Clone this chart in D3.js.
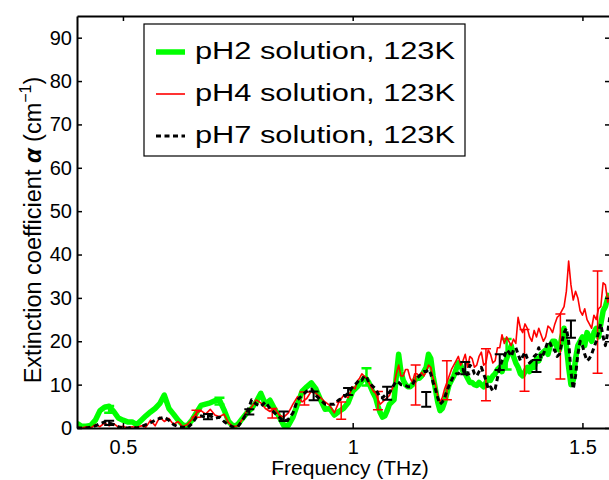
<!DOCTYPE html>
<html>
<head>
<meta charset="utf-8">
<script src="https://cdn.jsdelivr.net/npm/d3@7/dist/d3.min.js"></script>
<style>
  body { margin: 0; background: #fff; }
  text { font-family: "Liberation Sans", Arial, Helvetica, sans-serif; fill: #000; }
</style>
</head>
<body>
<script>
var width = 609, height = 480;
var plot = {left: 77, top: 16, right: 610, bottom: 428};

// frequency grid, THz: 0.40-0.99 every 0.01, then 1.00-1.56 every 0.005
var freq = d3.range(40, 100).map(function(i) { return i / 100; })
  .concat(d3.range(200, 313).map(function(i) { return i / 200; }));

var ph2 = [1.1, 0.4, 0.4, 0.6, 1.8, 4.0, 4.8, 5.0, 3.8, 2.3,
  1.8, 1.4, 1.4, 0.8, 1.8, 2.8, 3.7, 4.5, 5.6, 7.6,
  4.5, 3.2, 1.8, 0.7, 0.5, 1.8, 3.5, 5.2, 5.5, 5.8,
  6.3, 6.5, 4.2, 1.5, 0.4, 0.8, 2.2, 3.5, 4.5, 6.0,
  8.0, 5.5, 6.4, 4.4, 2.6, 0.6, 0.6, 2.5, 5.5, 8.5,
  9.5, 10.4, 9.0, 6.5, 4.3, 4.5, 3.0, 3.8, 4.5, 5.8,
  // 1.00 -
  8.5, 9.0, 9.5, 10.2, 10.8, 11.5, 11.3, 10.5, 9.2, 8.0,
  7.0, 5.0, 3.5, 2.5, 2.8, 4.0, 5.5, 6.0, 6.5, 12,
  17, 13, 11, 10, 9.5, 9.5, 10, 11, 11.5, 11.5,
  12, 13, 14, 17, 16, 12, 9, 6, 4, 4.5,
  6, 8, 10, 11, 12, 13.5, 15, 14.5, 13, 12.5,
  11.5, 10.5, 10.5, 10, 9.8, 10.5, 10, 9.5, 10.5, 11.5,
  11, 12, 12.5, 13.5, 14, 13, 14.5, 16, 17.5, 19,
  16.5, 15, 14, 12.5, 12, 13, 14, 13, 15, 14,
  16, 15.5, 17, 17.5, 18, 17, 19, 20, 20, 18.5,
  18, 21, 23, 19, 14, 10, 11, 16, 19, 20,
  21, 19, 22, 21, 20, 22, 23, 21, 24, 27,
  28, 30, 31];

var ph4 = [0.2, 0, 0.3, 0, 0.8, 0.3, 1.2, 0.5, 1.0, 0.2,
  0.4, 0, 0.3, 0.1, 0.5, 0.2, 1.8, 0.5, 2.5, 1.5,
  2.2, 0.8, 1.5, 0.3, 0.8, 2.0, 3.5, 4.0, 3.2, 4.3,
  3.0, 2.6, 3.2, 1.2, 0.3, 0.5, 2.0, 4.0, 4.8, 6.5,
  5.8, 4.5, 3.8, 4.5, 3.0, 2.5, 3.5, 5.5, 7.2, 6.0,
  6.8, 8.5, 8.0, 7.0, 6.0, 5.2, 3.5, 6.0, 7.5, 7.0,
  // 1.00 -
  9.5, 9.0, 10.8, 11.5, 12.5, 12.0, 11.5, 10.5, 9.5, 8.5,
  8.0, 6.5, 5.5, 6.0, 6.5, 7.0, 7.5, 8.8, 10, 12.5,
  14.5, 12.0, 12, 13.5, 13.5, 11.5, 10.5, 12.5, 12.5, 12.0,
  12.8, 12.0, 13, 14.5, 14, 11.5, 10, 7.5, 6, 7.0,
  9, 10.5, 12, 13.5, 14.5, 15.5, 16.5, 14.5, 15.5, 17.0,
  14, 16.5, 16, 14.0, 14.5, 16.5, 17.5, 14.5, 15, 18.0,
  17, 15.0, 15.5, 18.5, 18.5, 21.5, 19.5, 21.0, 20, 19.0,
  20.5, 19.5, 25.5, 23.0, 22, 24.0, 23, 21.0, 20, 22.5,
  21, 23.0, 21.5, 20.0, 21, 23.5, 23, 22.0, 24, 25.5,
  26, 27.0, 28, 31.5, 38.5, 33.0, 29.5, 31.5, 30, 27.0,
  26, 27.5, 25, 24.0, 23, 26.0, 25, 27.5, 28, 33.5,
  33, 29.0, 31];

var ph7 = [0, 0, 0, 0.2, 0.5, 1.0, 1.4, 1.2, 0.8, 0.3,
  0, 0, 0.2, 0, 0.3, 0.8, 1.2, 1.8, 2.2, 2.5,
  1.8, 0.8, 0.3, 0.2, 0, 1.0, 2.5, 2.8, 2.5, 2.8,
  2.2, 2.5, 1.5, 0.7, 0.2, 0.3, 1.8, 3.5, 6.5, 5.5,
  5.0, 6.0, 4.5, 3.5, 2.5, 1.5, 2.0, 3.5, 6.5, 7.5,
  8.5, 9.0, 7.5, 6.5, 5.5, 5.5, 5.5, 6.5, 7.0, 8.0,
  // 1.00 -
  9.5, 10.0, 10.5, 11.2, 11, 12.0, 11.8, 10.5, 10, 9.5,
  9, 8.0, 7, 7.0, 7.5, 8.0, 8.2, 9.0, 10, 10.8,
  10.5, 10.0, 10, 9.8, 9.5, 9.5, 10, 11.0, 11.5, 12.0,
  12.5, 13.0, 13, 13.5, 12.5, 10.5, 9, 7.0, 5.5, 6.0,
  7, 8.5, 9.8, 11.0, 12, 12.5, 12.5, 13.0, 13.5, 12.0,
  12.5, 14.5, 14, 12.5, 12, 13.0, 14, 12.5, 11, 9.0,
  9.5, 8.5, 9, 11.5, 14, 15.5, 16.5, 18.0, 17.5, 16.5,
  18, 18.5, 17, 15.5, 16.5, 17.5, 16, 15.0, 15.5, 16.5,
  17, 18.5, 16, 17.0, 18.5, 20.0, 19.5, 18.0, 18, 16.5,
  17, 19.5, 22, 23.0, 20, 13.0, 9, 12.0, 17, 20.0,
  19, 17.0, 15.5, 16.0, 17, 18.5, 20, 22.0, 24, 21.0,
  19, 22.0, 26];

// error bars: frequency, centre, half length
var ph2Err = [[0.47, 4.3, 0.8], [0.71, 6.2, 0.8], [1.03, 11.8, 2.0], [1.335, 17, 3.5]];
var ph4Err = [[0.66, 3.3, 0.8], [0.825, 3.4, 1.1], [0.895, 6.8, 1.5], [0.975, 4.0, 2.0],
  [1.055, 6.3, 2.1], [1.137, 9.9, 4.6], [1.205, 11, 4.5], [1.29, 12.3, 6.0],
  [1.374, 15.6, 7.1], [1.452, 18.8, 7.5], [1.533, 24.4, 11.8]];
var ph7Err = [[0.47, 1.2, 0.5], [0.685, 2.6, 0.6], [0.775, 3.7, 0.6], [0.85, 2.7, 1.1],
  [0.915, 7.4, 1.0], [0.99, 8.4, 0.8], [1.075, 8.0, 1.5], [1.16, 6.6, 1.7],
  [1.245, 13.8, 1.4], [1.32, 15.2, 1.8], [1.40, 14.3, 1.4], [1.475, 22.8, 2.0]];

var labels = ["pH2 solution, 123K", "pH4 solution, 123K", "pH7 solution, 123K"];
var xTicks = [0.5, 1, 1.5];
var yTicks = [0, 10, 20, 30, 40, 50, 60, 70, 80, 90];

var x = d3.scaleLinear().domain([0.4, 1.56]).range([plot.left, plot.right]);
var y = d3.scaleLinear().domain([0, 95]).range([plot.bottom, plot.top]);

var svg = d3.select("body").append("svg")
  .attr("width", width)
  .attr("height", height);

svg.append("defs").append("clipPath").attr("id", "clip")
  .append("rect")
  .attr("x", plot.left).attr("y", plot.top)
  .attr("width", plot.right - plot.left).attr("height", plot.bottom - plot.top);

var series = [
  {name: labels[0], values: ph2, err: ph2Err, color: "#00ff00", w: 5.5, dash: null, ew: 2.5},
  {name: labels[1], values: ph4, err: ph4Err, color: "#ff0000", w: 1.6, dash: null, ew: 1.5},
  {name: labels[2], values: ph7, err: ph7Err, color: "#000000", w: 3, dash: "5,3.5", ew: 2}
];

var line = d3.line()
  .x(function(d, i) { return x(freq[i]); })
  .y(function(d) { return y(d); });

var plotG = svg.append("g").attr("clip-path", "url(#clip)");

series.forEach(function(s) {
  var g = plotG.append("g");
  g.append("path")
    .attr("d", line(s.values))
    .attr("fill", "none")
    .attr("stroke", s.color)
    .attr("stroke-width", s.w)
    .attr("stroke-linejoin", "round")
    .attr("stroke-dasharray", s.dash);

  // error bars
  g.selectAll(".eb").data(s.err).enter().append("path")
    .attr("fill", "none")
    .attr("stroke", s.color)
    .attr("stroke-width", s.ew)
    .attr("d", function(d) {
      var cx = x(d[0]), y0 = y(d[1] - d[2]), y1 = y(d[1] + d[2]);
      return "M" + cx + "," + y0 + "V" + y1 +
        "M" + (cx - 5) + "," + y0 + "H" + (cx + 5) +
        "M" + (cx - 5) + "," + y1 + "H" + (cx + 5);
    });
});

// axes
function styleAxis(g) {
  g.selectAll(".domain").attr("stroke", "#000").attr("stroke-width", 2);
  g.selectAll(".tick line").attr("stroke", "#000").attr("stroke-width", 1.5);
  g.selectAll("text").attr("font-size", 20).attr("fill", "#000")
    .attr("font-family", "Liberation Sans, Arial, sans-serif");
}

svg.append("g")
  .attr("transform", "translate(0," + plot.bottom + ")")
  .call(d3.axisBottom(x).tickValues(xTicks).tickFormat(d3.format("")).tickSizeInner(-5).tickSizeOuter(0).tickPadding(12))
  .call(styleAxis);

svg.append("g")
  .attr("transform", "translate(0," + plot.top + ")")
  .call(d3.axisTop(x).tickValues(xTicks).tickFormat("").tickSizeInner(-5).tickSizeOuter(0))
  .call(styleAxis);

svg.append("g")
  .attr("transform", "translate(" + plot.left + ",0)")
  .call(d3.axisLeft(y).tickValues(yTicks).tickSizeInner(-5).tickSizeOuter(0).tickPadding(5))
  .call(styleAxis);

svg.append("g")
  .attr("transform", "translate(" + plot.right + ",0)")
  .call(d3.axisRight(y).tickValues(yTicks).tickFormat("").tickSizeInner(-5).tickSizeOuter(0))
  .call(styleAxis);

// axis titles
svg.append("text")
  .attr("x", 350).attr("y", 475)
  .attr("text-anchor", "middle")
  .attr("font-size", 21)
  .text("Frequency (THz)");

var yl = svg.append("text")
  .attr("text-anchor", "middle")
  .attr("font-size", 23.5)
  .attr("transform", "translate(41,230) rotate(-90)");
yl.append("tspan").text("Extinction coefficient ");
yl.append("tspan").attr("font-style", "italic").attr("font-weight", "bold").text("\u03b1");
yl.append("tspan").text(" (cm");
yl.append("tspan").attr("font-size", 16).attr("dy", -10).text("\u22121");
yl.append("tspan").attr("dy", 10).text(")");

// legend
var legend = svg.append("g");
legend.append("rect")
  .attr("x", 144).attr("y", 24)
  .attr("width", 321).attr("height", 132)
  .attr("fill", "#fff")
  .attr("stroke", "#000")
  .attr("stroke-width", 1.2);

var rows = legend.selectAll(".row").data(series).enter().append("g")
  .attr("transform", function(d, i) { return "translate(0," + (52 + i * 42) + ")"; });

rows.append("line")
  .attr("x1", 156).attr("x2", 185)
  .attr("stroke", function(d) { return d.color; })
  .attr("stroke-width", function(d) { return d.w; })
  .attr("stroke-dasharray", function(d) { return d.dash; });

rows.append("text")
  .attr("x", 195).attr("y", 7)
  .attr("font-size", 23)
  .attr("textLength", 260)
  .attr("lengthAdjust", "spacingAndGlyphs")
  .text(function(d) { return d.name; });
</script>
</body>
</html>
